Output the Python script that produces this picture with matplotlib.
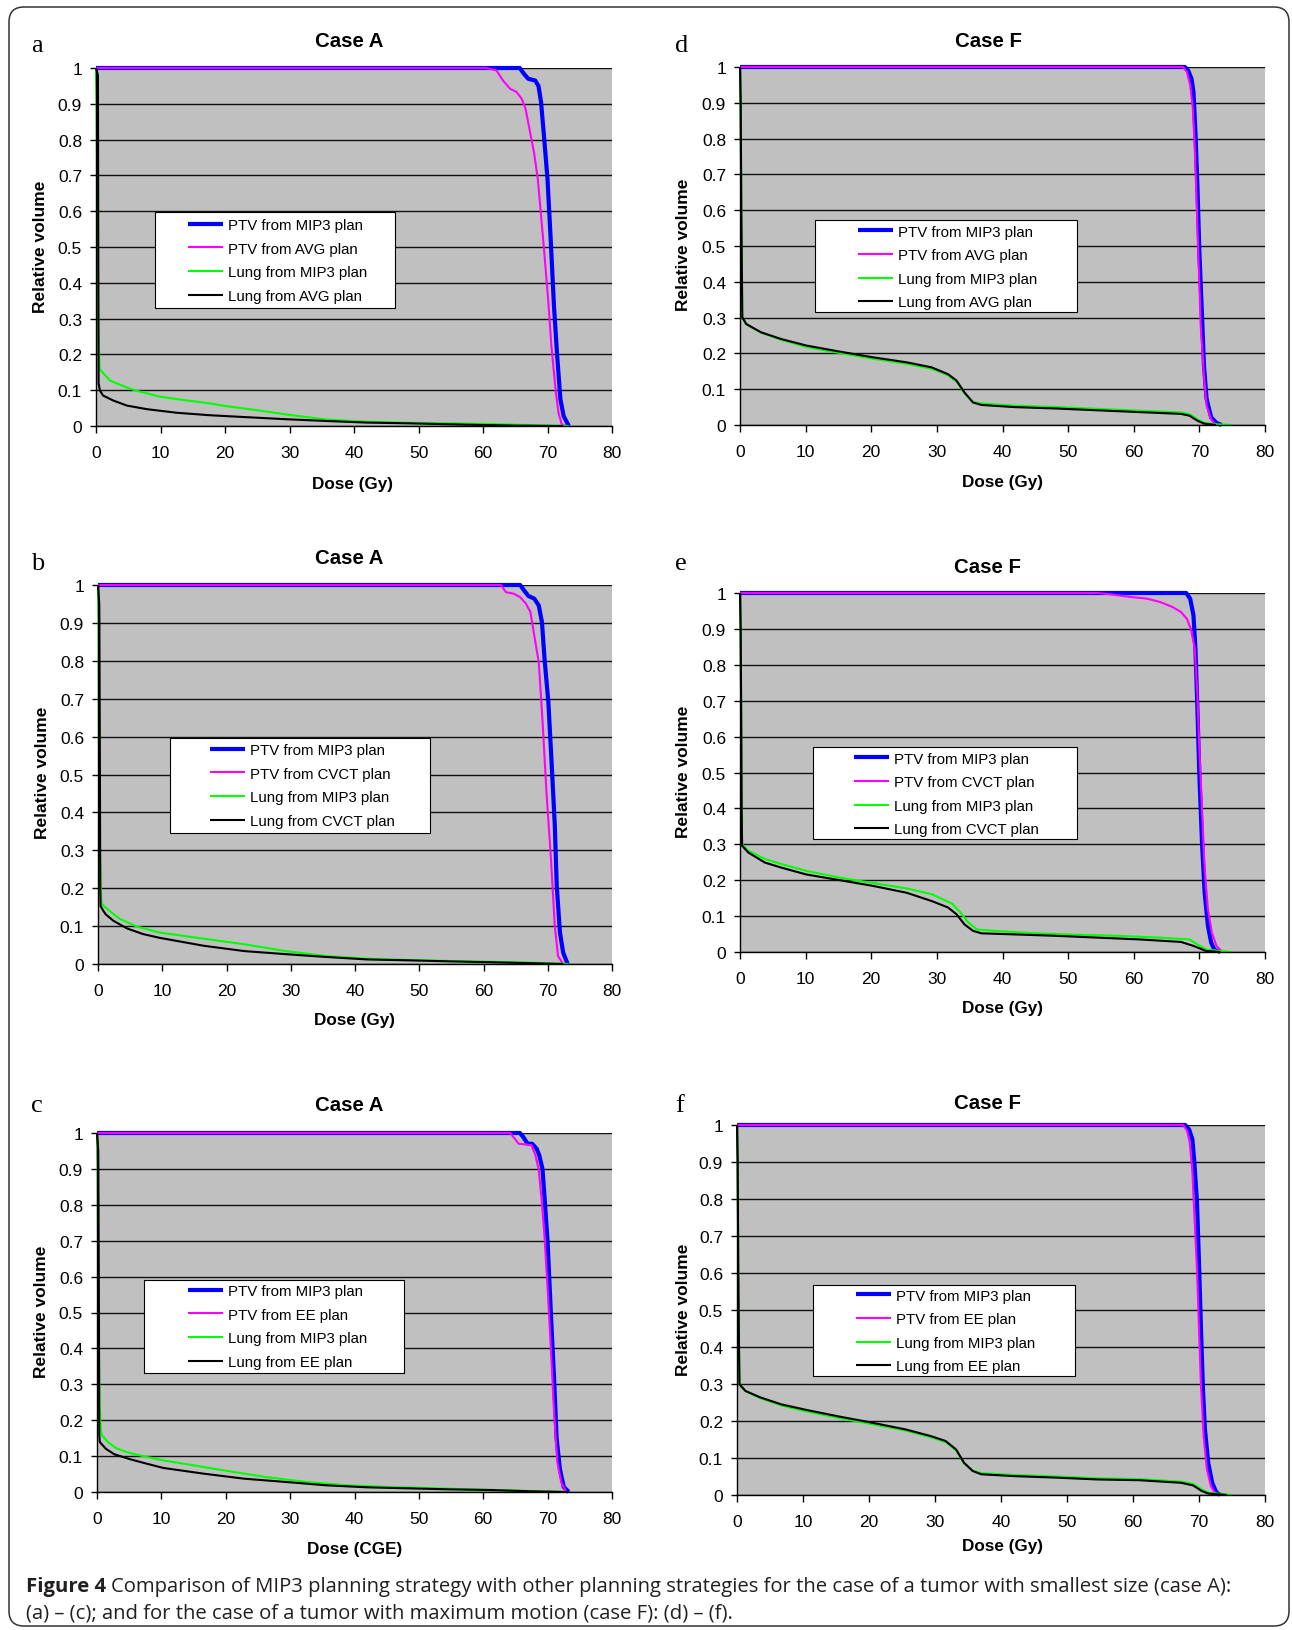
import matplotlib
matplotlib.use('Agg')
import matplotlib.pyplot as plt
from matplotlib.patches import Rectangle, FancyBboxPatch

W, H = 1292, 1631
plt.rcParams['font.family'] = ['Liberation Sans', 'DejaVu Sans']

# ---------------- data (dose in Gy / CGE, relative volume) ----------------
x_ticks = [0, 10, 20, 30, 40, 50, 60, 70, 80]
x_ticklabels = ['0', '10', '20', '30', '40', '50', '60', '70', '80']
y_ticks = [0, 0.1, 0.2, 0.3, 0.4, 0.5, 0.6, 0.7, 0.8, 0.9, 1.0]
y_ticklabels = ['0', '0.1', '0.2', '0.3', '0.4', '0.5', '0.6', '0.7', '0.8', '0.9', '1']

panel_letters = ['a', 'b', 'c', 'd', 'e', 'f']
panel_titles = ['Case A', 'Case A', 'Case A', 'Case F', 'Case F', 'Case F']
panel_xlabels = ['Dose (Gy)', 'Dose (Gy)', 'Dose (CGE)', 'Dose (Gy)', 'Dose (Gy)', 'Dose (Gy)']
panel_plans = ['AVG', 'CVCT', 'EE', 'AVG', 'CVCT', 'EE']

# panel a
a_ptv_mip3_x = [0, 65.7, 66.3, 67.0, 68.1, 68.6, 69.0, 69.5, 70.0, 70.5, 71.0, 71.5, 72.0, 72.5, 73.3]
a_ptv_mip3_y = [1.0, 1.0, 0.985, 0.970, 0.965, 0.950, 0.905, 0.800, 0.690, 0.520, 0.336, 0.196, 0.075, 0.028, 0.0]
a_ptv_avg_x = [0, 60.5, 62.1, 63.1, 64.2, 65.2, 66.0, 66.6, 67.2, 67.9, 68.5, 69.0, 69.5, 70.1, 70.6, 71.3, 71.7, 72.2, 72.8]
a_ptv_avg_y = [1.0, 1.0, 0.993, 0.965, 0.942, 0.933, 0.914, 0.886, 0.830, 0.765, 0.690, 0.588, 0.485, 0.354, 0.224, 0.093, 0.037, 0.005, 0.0]
a_lung_mip3_x = [0, 0.1, 0.2, 0.4, 0.55, 0.62, 1.5, 2.2, 2.8, 5.3, 6.6, 9.9, 13.0, 17.7, 20.0, 25.0, 30.0, 35.7, 42.0, 48.4, 54.7, 61.0, 68.6, 73.3]
a_lung_mip3_y = [1.0, 0.9, 0.55, 0.25, 0.17, 0.158, 0.140, 0.127, 0.122, 0.104, 0.097, 0.082, 0.074, 0.063, 0.056, 0.044, 0.031, 0.018, 0.012, 0.009, 0.0075, 0.0055, 0.002, 0.0]
a_lung_avg_x = [0, 0.3, 0.35, 0.4, 0.6, 1.1, 2.7, 4.8, 7.9, 12.5, 17.7, 23.0, 29.4, 35.7, 42.0, 48.4, 56.6, 65.4, 72.4]
a_lung_avg_y = [1.0, 0.98, 0.5, 0.12, 0.099, 0.085, 0.071, 0.057, 0.047, 0.037, 0.030, 0.025, 0.019, 0.014, 0.0095, 0.0075, 0.004, 0.001, 0.0]

# panel b
b_ptv_mip3_x = [0, 65.7, 66.3, 67.0, 67.9, 68.6, 69.1, 69.5, 70.1, 70.6, 71.1, 71.4, 71.9, 72.4, 73.1]
b_ptv_mip3_y = [1.0, 1.0, 0.986, 0.971, 0.964, 0.946, 0.902, 0.805, 0.690, 0.532, 0.365, 0.206, 0.083, 0.030, 0.0]
b_ptv_cvct_x = [0, 62.7, 63.5, 64.7, 65.7, 66.6, 67.3, 67.9, 68.6, 69.2, 69.8, 70.5, 71.1, 71.6, 72.4]
b_ptv_cvct_y = [1.0, 1.0, 0.981, 0.977, 0.968, 0.951, 0.929, 0.867, 0.796, 0.638, 0.453, 0.277, 0.100, 0.021, 0.0]
b_lung_mip3_x = [0, 0.1, 0.15, 0.3, 0.5, 0.6, 1.8, 3.4, 6.0, 9.6, 15.9, 22.8, 29.2, 35.5, 41.9, 48.2, 54.6, 60.9, 67.3, 73.3]
b_lung_mip3_y = [1.0, 0.9, 0.55, 0.3, 0.17, 0.158, 0.140, 0.119, 0.099, 0.083, 0.068, 0.052, 0.034, 0.021, 0.014, 0.0106, 0.008, 0.006, 0.0035, 0.0]
b_lung_cvct_x = [0, 0.2, 0.3, 0.35, 0.4, 0.8, 1.2, 2.4, 4.5, 7.0, 9.6, 16.5, 22.8, 29.2, 35.5, 41.9, 48.2, 54.6, 64.1, 72.4]
b_lung_cvct_y = [1.0, 0.95, 0.5, 0.2, 0.153, 0.141, 0.131, 0.114, 0.094, 0.079, 0.069, 0.048, 0.034, 0.026, 0.0185, 0.012, 0.0097, 0.007, 0.0035, 0.0]

# panel c
c_ptv_mip3_x = [0, 65.7, 66.2, 66.9, 67.6, 68.3, 68.7, 69.2, 69.5, 70.0, 70.5, 71.0, 71.4, 71.9, 72.5, 73.3]
c_ptv_mip3_y = [1.0, 1.0, 0.989, 0.970, 0.970, 0.956, 0.938, 0.900, 0.826, 0.696, 0.500, 0.316, 0.149, 0.065, 0.014, 0.0]
c_ptv_ee_x = [0, 64.2, 64.9, 65.5, 66.7, 67.5, 68.1, 68.6, 69.1, 69.5, 70.0, 70.5, 71.0, 71.5, 72.1, 72.9]
c_ptv_ee_y = [1.0, 1.0, 0.984, 0.970, 0.968, 0.966, 0.938, 0.900, 0.808, 0.715, 0.566, 0.400, 0.223, 0.084, 0.028, 0.0]
c_lung_mip3_x = [0, 0.1, 0.2, 0.4, 0.6, 0.76, 1.7, 3.0, 4.6, 7.1, 10.3, 13.4, 19.8, 26.1, 32.5, 38.8, 45.1, 51.5, 57.8, 64.2, 68.6, 73.0]
c_lung_mip3_y = [1.0, 0.9, 0.55, 0.25, 0.17, 0.158, 0.139, 0.122, 0.111, 0.100, 0.088, 0.079, 0.060, 0.042, 0.028, 0.0186, 0.014, 0.011, 0.0074, 0.0046, 0.002, 0.0]
c_lung_ee_x = [0, 0.2, 0.3, 0.35, 0.44, 1.4, 2.7, 5.2, 7.7, 10.3, 16.6, 22.9, 29.3, 35.6, 42.0, 48.3, 54.6, 61.0, 67.3, 73.0]
c_lung_ee_y = [1.0, 0.95, 0.5, 0.16, 0.139, 0.120, 0.105, 0.091, 0.079, 0.067, 0.051, 0.037, 0.028, 0.0186, 0.013, 0.0102, 0.0074, 0.0056, 0.002, 0.0]

# panel d
d_ptv_mip3_x = [0, 67.8, 68.3, 68.8, 69.1, 69.4, 69.7, 70.0, 70.4, 70.7, 71.1, 71.8, 72.6, 73.4]
d_ptv_mip3_y = [1.0, 1.0, 0.990, 0.967, 0.930, 0.818, 0.669, 0.483, 0.306, 0.166, 0.073, 0.021, 0.006, 0.0]
d_ptv_avg_x = [0, 67.5, 68.1, 68.6, 69.0, 69.3, 69.6, 69.9, 70.2, 70.7, 71.1, 71.8, 72.6]
d_ptv_avg_y = [1.0, 1.0, 0.986, 0.949, 0.884, 0.772, 0.613, 0.445, 0.278, 0.138, 0.054, 0.015, 0.0]
d_lung_mip3_x = [0, 0.1, 0.2, 0.3, 0.35, 0.95, 3.2, 6.3, 10.1, 15.2, 20.3, 25.4, 29.2, 31.7, 33.0, 34.2, 35.5, 36.8, 41.8, 48.2, 54.5, 60.9, 67.2, 68.5, 69.7, 70.7, 72.5, 75.0]
d_lung_mip3_y = [1.0, 0.9, 0.6, 0.4, 0.301, 0.282, 0.258, 0.238, 0.218, 0.201, 0.185, 0.171, 0.157, 0.139, 0.121, 0.089, 0.064, 0.060, 0.054, 0.050, 0.045, 0.040, 0.035, 0.030, 0.016, 0.006, 0.002, 0.0]
d_lung_avg_x = [0, 0.1, 0.2, 0.3, 0.35, 0.95, 3.2, 6.3, 10.1, 15.2, 20.3, 25.4, 29.2, 31.7, 33.0, 34.2, 35.5, 36.8, 41.8, 48.2, 54.5, 60.9, 67.2, 68.5, 69.7, 70.7, 72.5]
d_lung_avg_y = [1.0, 0.9, 0.6, 0.4, 0.301, 0.282, 0.259, 0.240, 0.222, 0.205, 0.189, 0.175, 0.161, 0.142, 0.124, 0.091, 0.063, 0.056, 0.050, 0.046, 0.041, 0.036, 0.031, 0.026, 0.012, 0.004, 0.0]

# panel e
e_ptv_mip3_x = [0, 68.0, 68.6, 69.1, 69.4, 69.7, 70.0, 70.4, 70.8, 71.3, 71.8, 72.3, 73.2]
e_ptv_mip3_y = [1.0, 1.0, 0.984, 0.938, 0.845, 0.677, 0.491, 0.305, 0.166, 0.073, 0.026, 0.006, 0.0]
e_ptv_cvct_x = [0, 54.5, 57.0, 59.5, 62.1, 64.0, 65.9, 67.2, 68.1, 68.7, 69.3, 69.7, 70.0, 70.4, 70.8, 71.3, 71.9, 72.6, 73.5]
e_ptv_cvct_y = [1.0, 1.0, 0.995, 0.989, 0.984, 0.975, 0.961, 0.947, 0.928, 0.900, 0.845, 0.716, 0.566, 0.400, 0.233, 0.119, 0.054, 0.017, 0.0]
e_lung_mip3_x = [0, 0.1, 0.2, 0.25, 0.32, 1.27, 3.8, 6.3, 10.1, 15.2, 20.3, 25.4, 29.2, 32.3, 33.6, 34.8, 36.1, 38.7, 45.0, 51.3, 57.7, 64.0, 68.5, 69.7, 71.0, 74.8]
e_lung_mip3_y = [1.0, 0.9, 0.6, 0.4, 0.300, 0.282, 0.259, 0.245, 0.226, 0.207, 0.192, 0.177, 0.161, 0.135, 0.110, 0.082, 0.063, 0.059, 0.052, 0.048, 0.045, 0.040, 0.035, 0.021, 0.007, 0.0]
e_lung_cvct_x = [0, 0.1, 0.2, 0.25, 0.32, 1.27, 3.8, 6.3, 10.1, 15.2, 20.3, 25.4, 29.2, 31.7, 33.0, 34.2, 35.5, 36.8, 41.8, 48.2, 54.5, 60.9, 67.2, 69.1, 71.0, 73.2]
e_lung_cvct_y = [1.0, 0.9, 0.6, 0.4, 0.296, 0.277, 0.249, 0.235, 0.216, 0.200, 0.184, 0.165, 0.142, 0.124, 0.105, 0.077, 0.059, 0.052, 0.049, 0.045, 0.040, 0.035, 0.028, 0.017, 0.003, 0.0]

# panel f
f_ptv_mip3_x = [0, 67.9, 68.5, 69.0, 69.3, 69.7, 70.0, 70.3, 70.6, 70.9, 71.4, 72.0, 72.6, 73.2]
f_ptv_mip3_y = [1.0, 1.0, 0.988, 0.961, 0.898, 0.790, 0.628, 0.448, 0.286, 0.177, 0.087, 0.033, 0.008, 0.0]
f_ptv_ee_x = [0, 67.6, 68.2, 68.6, 69.0, 69.3, 69.7, 70.0, 70.3, 70.7, 71.2, 71.8, 72.6]
f_ptv_ee_y = [1.0, 1.0, 0.984, 0.952, 0.871, 0.754, 0.610, 0.448, 0.295, 0.159, 0.069, 0.024, 0.0]
f_lung_mip3_x = [0, 0.1, 0.2, 0.3, 0.38, 1.3, 3.5, 6.7, 10.5, 15.5, 20.6, 25.6, 29.4, 31.6, 33.2, 34.4, 35.7, 37.0, 42.0, 48.3, 54.6, 60.9, 67.3, 69.1, 70.4, 71.4, 75.0]
f_lung_mip3_y = [1.0, 0.9, 0.6, 0.4, 0.299, 0.281, 0.262, 0.242, 0.226, 0.208, 0.191, 0.174, 0.156, 0.143, 0.121, 0.086, 0.066, 0.059, 0.054, 0.050, 0.045, 0.043, 0.036, 0.030, 0.015, 0.006, 0.0]
f_lung_ee_x = [0, 0.1, 0.2, 0.3, 0.38, 1.3, 3.5, 6.7, 10.5, 15.5, 20.6, 25.6, 29.4, 31.6, 33.2, 34.4, 35.7, 37.0, 42.0, 48.3, 54.6, 60.9, 67.3, 69.1, 70.4, 71.4, 74.2]
f_lung_ee_y = [1.0, 0.9, 0.6, 0.4, 0.299, 0.281, 0.264, 0.245, 0.230, 0.212, 0.195, 0.177, 0.159, 0.146, 0.123, 0.087, 0.065, 0.056, 0.051, 0.047, 0.042, 0.040, 0.033, 0.026, 0.011, 0.004, 0.0]

caption_bold = 'Figure 4'
caption_line1 = 'Comparison of MIP3 planning strategy with other planning strategies for the case of a tumor with smallest size (case A):'
caption_line2 = '(a) \u2013 (c); and for the case of a tumor with maximum motion (case F): (d) \u2013 (f).'

series = [
    [(a_ptv_mip3_x, a_ptv_mip3_y), (a_ptv_avg_x, a_ptv_avg_y), (a_lung_mip3_x, a_lung_mip3_y), (a_lung_avg_x, a_lung_avg_y)],
    [(b_ptv_mip3_x, b_ptv_mip3_y), (b_ptv_cvct_x, b_ptv_cvct_y), (b_lung_mip3_x, b_lung_mip3_y), (b_lung_cvct_x, b_lung_cvct_y)],
    [(c_ptv_mip3_x, c_ptv_mip3_y), (c_ptv_ee_x, c_ptv_ee_y), (c_lung_mip3_x, c_lung_mip3_y), (c_lung_ee_x, c_lung_ee_y)],
    [(d_ptv_mip3_x, d_ptv_mip3_y), (d_ptv_avg_x, d_ptv_avg_y), (d_lung_mip3_x, d_lung_mip3_y), (d_lung_avg_x, d_lung_avg_y)],
    [(e_ptv_mip3_x, e_ptv_mip3_y), (e_ptv_cvct_x, e_ptv_cvct_y), (e_lung_mip3_x, e_lung_mip3_y), (e_lung_cvct_x, e_lung_cvct_y)],
    [(f_ptv_mip3_x, f_ptv_mip3_y), (f_ptv_ee_x, f_ptv_ee_y), (f_lung_mip3_x, f_lung_mip3_y), (f_lung_ee_x, f_lung_ee_y)],
]

# ---------------- layout (pixels) ----------------
layout = [
    dict(axes=(96, 69, 612, 427), title=(349, 47), letter=(31, 52), ylab=(41, 247), xlab=(353, 485),
         leg=(155, 213, 395, 309), hx=188, ly=261.5),
    dict(axes=(98, 586, 612, 965), title=(349, 564), letter=(31, 570), ylab=(43, 773), xlab=(355, 1021),
         leg=(170, 739, 430, 834), hx=210, ly=786.5),
    dict(axes=(97, 1134, 612, 1493), title=(349, 1111), letter=(31, 1112), ylab=(42, 1312), xlab=(355, 1550),
         leg=(144, 1281, 404, 1374), hx=188, ly=1327.5),
    dict(axes=(740, 68, 1265, 426), title=(988, 47), letter=(675, 52), ylab=(684, 245), xlab=(1002, 483),
         leg=(815, 221, 1077, 313), hx=858, ly=268),
    dict(axes=(740, 594, 1265, 953), title=(987, 573), letter=(675, 570), ylab=(684, 772), xlab=(1002, 1009),
         leg=(813, 748, 1077, 840), hx=854, ly=795),
    dict(axes=(737, 1126, 1265, 1496), title=(987, 1109), letter=(675, 1112), ylab=(684, 1310), xlab=(1002, 1547),
         leg=(813, 1286, 1075, 1377), hx=856, ly=1332),
]

colors = ['#0000FF', '#FF00FF', '#00FF00', '#000000']
widths = [3.0, 1.5, 1.5, 1.5]

fig = plt.figure(figsize=(W / 100, H / 100), dpi=100)


def fx(x):
    return x / W


def fy(y):
    return 1 - y / H


for i, lay in enumerate(layout):
    l, t, r, b = lay['axes']
    ax = fig.add_axes([fx(l), fy(b), (r - l) / W, (b - t) / H])
    ax.set_facecolor('#C0C0C0')
    ax.set_xlim(0, 80)
    ax.set_ylim(0, 1)
    ax.set_xticks(x_ticks)
    ax.set_xticklabels(x_ticklabels)
    ax.set_yticks(y_ticks)
    ax.set_yticklabels(y_ticklabels)
    ax.yaxis.grid(True, color='#111111', lw=1.0)
    ax.set_axisbelow(True)
    for s in ['top', 'right']:
        ax.spines[s].set_visible(False)
    for s in ['left', 'bottom']:
        ax.spines[s].set_linewidth(1.0)
        ax.spines[s].set_color('black')
    ax.tick_params(axis='x', direction='out', length=5, width=1, labelsize=12.5, pad=9)
    ax.tick_params(axis='y', direction='out', length=4.5, width=1, labelsize=12.5, pad=5.5)

    plan = panel_plans[i]
    labels = ['PTV from MIP3 plan', 'PTV from %s plan' % plan,
              'Lung from MIP3 plan', 'Lung from %s plan' % plan]
    handles = []
    for k, (xs, ys) in enumerate(series[i]):
        ln, = ax.plot(xs, ys, color=colors[k], lw=widths[k], clip_on=False,
                      solid_joinstyle='round', solid_capstyle='butt', zorder=2 + k * 0.1)
        handles.append(ln)

    bx0, by0, bx1, by1 = lay['leg']
    rect = Rectangle((fx(bx0), fy(by1)), (bx1 - bx0) / W, (by1 - by0) / H, transform=fig.transFigure,
                     facecolor='white', edgecolor='black', lw=0.8, zorder=4)
    ax.add_artist(rect)
    leg = ax.legend(handles, labels, loc='center left', bbox_to_anchor=(fx(lay['hx']), fy(lay['ly'])),
                    bbox_transform=fig.transFigure, frameon=False, borderpad=0, borderaxespad=0,
                    handlelength=2.33, handletextpad=0.33, labelspacing=0.64, fontsize=10.8)
    leg.set_zorder(5)

    fig.text(fx(lay['title'][0]), fy(lay['title'][1]), panel_titles[i], ha='center', va='baseline',
             fontsize=14.7, fontweight='bold')
    fig.text(fx(lay['letter'][0]), fy(lay['letter'][1]), panel_letters[i], ha='left', va='baseline',
             fontsize=19, family=['Liberation Serif', 'DejaVu Serif'])
    fig.text(fx(lay['ylab'][0]), fy(lay['ylab'][1]), 'Relative volume', ha='center', va='center',
             rotation=90, fontsize=12.5, fontweight='bold')
    fig.text(fx(lay['xlab'][0]), fy(lay['xlab'][1]), panel_xlabels[i], ha='center', va='center',
             fontsize=12.3, fontweight='bold')

# border
border = FancyBboxPatch((0.09, 0.04), 12.80, 16.19, boxstyle='round,pad=0,rounding_size=0.15',
                        transform=fig.dpi_scale_trans, facecolor='none', edgecolor='#333333', lw=1.1)
fig.add_artist(border)

# caption: fit first line to its width in the reference (x from 26 to 1228 px)
cap_family = ['Open Sans', 'DejaVu Sans']
cap_color = '#231F20'
renderer = fig.canvas.get_renderer()
cap_size = 13.0
probe1 = fig.text(0, 0, caption_bold, fontsize=cap_size, fontweight='bold', family=cap_family)
probe2 = fig.text(0, 0, caption_line1, fontsize=cap_size, family=cap_family)
w_total = probe1.get_window_extent(renderer).width + 5 + probe2.get_window_extent(renderer).width
probe1.remove()
probe2.remove()
cap_size = cap_size * (1228 - 26) / w_total

t1 = fig.text(fx(26), fy(1592), caption_bold, fontsize=cap_size, fontweight='bold', color=cap_color,
              va='baseline', ha='left', family=cap_family)
bb = t1.get_window_extent(renderer=renderer)
fig.text((bb.x1 + 5) / W, fy(1592), caption_line1, fontsize=cap_size, color=cap_color, va='baseline',
         ha='left', family=cap_family)
fig.text(fx(26), fy(1619), caption_line2, fontsize=cap_size, color=cap_color, va='baseline', ha='left',
         family=cap_family)

fig.savefig('out.png', dpi=100)
